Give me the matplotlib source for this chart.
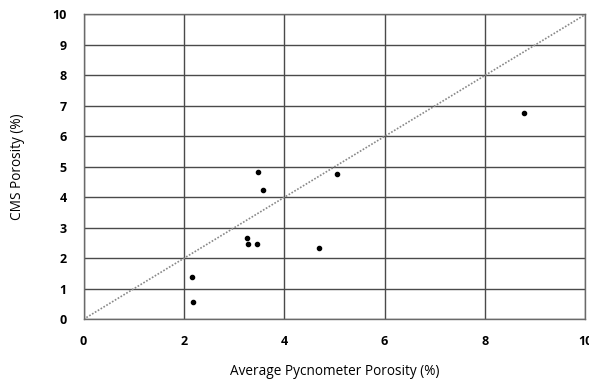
import matplotlib
matplotlib.use("Agg")
import matplotlib.pyplot as plt
import numpy as np

pycnometer = [3.48, 3.57, 5.06, 8.78, 3.25, 3.28, 3.46, 2.16, 2.19, 4.70]
cms = [4.83, 4.25, 4.77, 6.77, 2.66, 2.46, 2.46, 1.38, 0.57, 2.33]
x_ticks = [0, 2, 4, 6, 8, 10]
y_ticks = [0, 1, 2, 3, 4, 5, 6, 7, 8, 9, 10]

plt.rcParams['font.family'] = ['Open Sans', 'DejaVu Sans']

fig = plt.figure(figsize=(5.89, 3.81), dpi=100)
ax = fig.add_axes([0.1418, 0.162, 0.852, 0.800])

ax.set_xlim(0, 10)
ax.set_ylim(0, 10)
ax.set_xticks(x_ticks)
ax.set_yticks(y_ticks)
ax.set_xticklabels([str(t) for t in x_ticks], fontweight='bold', fontsize=9)
ax.set_yticklabels([str(t) for t in y_ticks], fontweight='bold', fontsize=9)
ax.tick_params(length=0, pad=12)
ax.tick_params(axis='x', pad=11)

ax.grid(True, color='#4a4a4a', linewidth=1.0)
ax.set_axisbelow(True)
for s in ax.spines.values():
    s.set_color('#6a6a6a')
    s.set_linewidth(1.0)

ax.plot([0, 10], [0, 10], linestyle=(0, (1, 1)), color='#888888', linewidth=1.2, zorder=2)
ax.scatter(pycnometer, cms, s=9, color='black', zorder=3)

ax.set_xlabel('Average Pycnometer Porosity (%)', fontsize=9.8, labelpad=12)
ax.set_ylabel('CMS Porosity (%)', fontsize=9.8, labelpad=20)

fig.savefig('out.png', dpi=100)
